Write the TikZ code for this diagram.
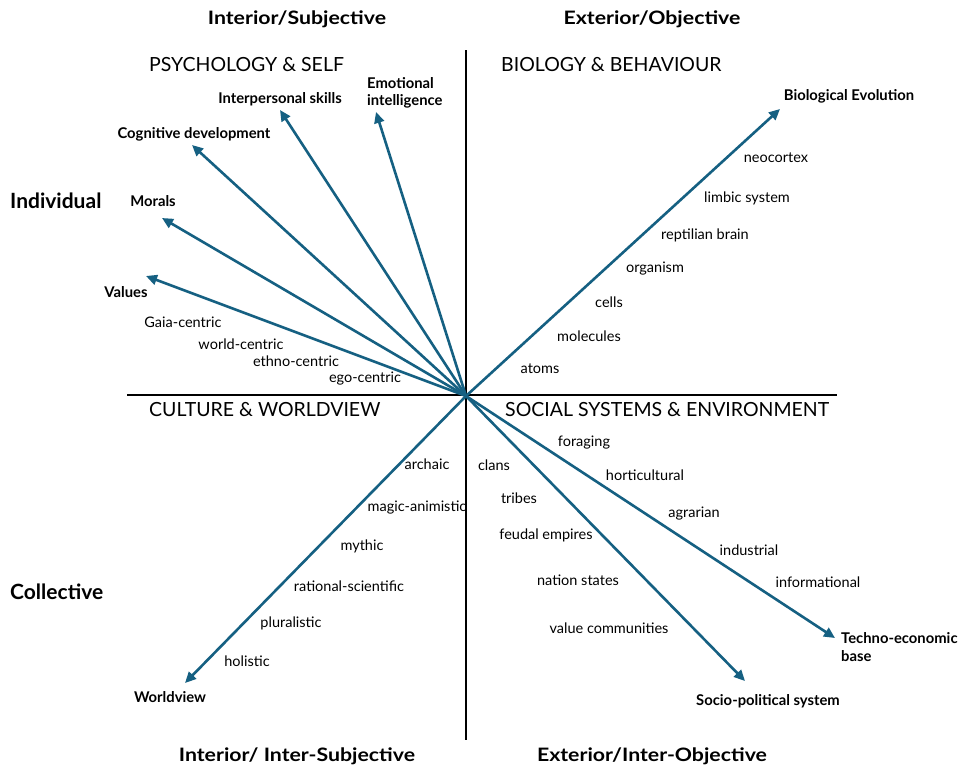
\documentclass[tikz,border=0pt]{standalone}
\usepackage{fontspec}
\setmainfont{Lato}
\newfontfamily\titlefont{Lato}[FakeStretch=1.15]
\usetikzlibrary{arrows.meta}
\definecolor{accent}{HTML}{156082}
\tikzset{
  arr/.style={line width=2.6pt, color=accent, -{Triangle[length=11pt,width=10pt]}},
  axisline/.style={line width=2pt, black},
  title/.style={font=\titlefont\fontsize{18.5}{22}\selectfont\bfseries, inner sep=0pt},
  side/.style={font=\fontsize{21}{24}\selectfont\bfseries, inner sep=0pt},
  quad/.style={font=\fontsize{19.5}{22}\selectfont, inner sep=0pt},
  lbl/.style={font=\fontsize{14.5}{17}\selectfont, inner sep=0pt},
  blbl/.style={font=\fontsize{14.8}{17.5}\selectfont\bfseries, inner sep=0pt},
}
\begin{document}
\begin{tikzpicture}[x=1pt,y=-1pt]
\useasboundingbox[fill=white] (0,0) rectangle (977,782);
% titles
\node[title] (tIS) at (297,19) {Interior/Subjective};
\node[title] (tEO) at (652,19) {Exterior/Objective};
\node[title] (tIIS) at (297,756) {Interior/ Inter-Subjective};
\node[title] (tEIO) at (652,756) {Exterior/Inter-Objective};
\node[side, anchor=west] (ind) at (10,201) {Individual};
\node[side, anchor=west] (col) at (10,592) {Collective};
% quadrant headers
\node[quad, anchor=west] (q1) at (149,65) {PSYCHOLOGY \& SELF};
\node[quad, anchor=west] (q2) at (501,65) {BIOLOGY \& BEHAVIOUR};
\node[quad, anchor=west] (q3) at (149,410) {CULTURE \& WORLDVIEW};
\node[quad, anchor=west] (q4) at (505,410) {SOCIAL SYSTEMS \& ENVIRONMENT};
% upper left labels
\node[blbl] (lInter) at (280,99) {Interpersonal skills};
\node[blbl, align=left, anchor=west] (lEmo) at (367,93) {Emotional\\intelligence};
\node[blbl] (lCog) at (194,134) {Cognitive development};
\node[blbl] (lMor) at (153,201) {Morals};
\node[blbl] (lVal) at (126,292) {Values};
\node[lbl] (lGaia) at (183,322) {Gaia-centric};
\node[lbl] (lWorld) at (241,344) {world-centric};
\node[lbl] (lEthno) at (296,361) {ethno-centric};
\node[lbl] (lEgo) at (365,379) {ego-centric};
% upper right labels
\node[blbl] (lBio) at (849,96) {Biological Evolution};
\node[lbl] (lNeo) at (776,158) {neocortex};
\node[lbl] (lLim) at (747,198) {limbic system};
\node[lbl] (lRep) at (705,235) {reptilian brain};
\node[lbl] (lOrg) at (655,269) {organism};
\node[lbl] (lCel) at (609,302) {cells};
\node[lbl] (lMol) at (589,336) {molecules};
\node[lbl] (lAto) at (540,369) {atoms};
% lower left labels
\node[lbl] (lArc) at (427,464) {archaic};
\node[lbl] (lMag) at (417,507) {magic-animistic};
\node[lbl] (lMyt) at (362,546) {mythic};
\node[lbl] (lRat) at (349,586) {rational-scientific};
\node[lbl] (lPlu) at (291,623) {pluralistic};
\node[lbl] (lHol) at (247,661) {holistic};
\node[blbl] (lWv) at (170,697) {Worldview};
% lower right labels
\node[lbl] (lFor) at (584,443) {foraging};
\node[lbl] (lHor) at (645,475) {horticultural};
\node[lbl] (lAgr) at (694,514) {agrarian};
\node[lbl] (lIndu) at (749,550) {industrial};
\node[lbl] (lInf) at (818,582) {informational};
\node[lbl] (lCla) at (494,465) {clans};
\node[lbl] (lTri) at (519,498) {tribes};
\node[lbl] (lFeu) at (546,535) {feudal empires};
\node[lbl] (lNat) at (578,580) {nation states};
\node[lbl] (lVc) at (609,628) {value communities};
\node[blbl] (lSoc) at (768,701) {Socio-political system};
\node[blbl, align=left, anchor=west] (lTec) at (841,647) {Techno-economic\\base};
% axes
\coordinate (aT) at (466,50);
\coordinate (aB) at (466,740);
\coordinate (aL) at (127,395);
\coordinate (aR) at (837,395);
\draw[axisline] (aT) -- (aB);
\draw[axisline] (aL) -- (aR);
% arrows
\coordinate (O) at (466,396);
\coordinate (pVal) at (146,276);
\coordinate (pMor) at (162,218);
\coordinate (pCog) at (192,145);
\coordinate (pInt) at (280,110);
\coordinate (pEmo) at (376,112);
\coordinate (pBio) at (780,109);
\coordinate (pWv) at (185,683);
\coordinate (pSoc) at (745,681);
\coordinate (pTec) at (835,638);
\foreach \p in {pVal,pMor,pCog,pInt,pEmo,pBio,pWv,pSoc,pTec}
  \draw[arr] (O) -- (\p);
\end{tikzpicture}
\end{document}
